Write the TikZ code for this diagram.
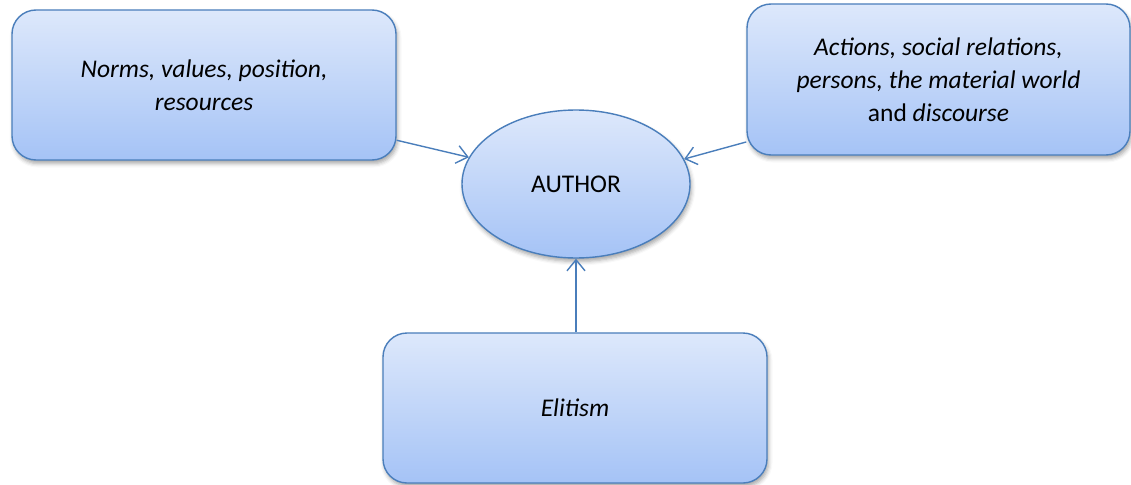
\documentclass[tikz,border=0pt]{standalone}
\usepackage{fontspec}
\setmainfont{Carlito}
\usetikzlibrary{arrows.meta,shapes.geometric,shadows.blur}
\definecolor{edgeblue}{HTML}{4A7EBB}
\definecolor{filltop}{HTML}{DDE8FB}
\definecolor{fillbot}{HTML}{A5C3F6}
\tikzset{
  filled/.style={draw=edgeblue, line width=1.4pt, top color=filltop, bottom color=fillbot,
    blur shadow={shadow xshift=1.5pt, shadow yshift=-3.5pt, shadow blur radius=4pt, shadow opacity=35},
    align=center, font=\fontsize{25.5}{33}\selectfont, inner sep=0pt},
  roundbox/.style={filled, rectangle, rounded corners=24pt},
  oval/.style={filled, ellipse},
  conn/.style={draw=edgeblue, line width=1.4pt, -{Straight Barb[length=11pt,width=18pt,line width=1.4pt]}}
}
\begin{document}
\begin{tikzpicture}[x=1pt,y=-1pt]
  \useasboundingbox (0,0) rectangle (1131,484);
  % source boxes
  \node[roundbox, minimum width=384pt, minimum height=150pt] (norms) at (204,85)
    {\itshape Norms, values, position,\\ \itshape resources};
  \node[roundbox, minimum width=383pt, minimum height=151pt] (actions) at (938.5,79.5)
    {\itshape Actions, social relations,\\ \itshape persons, the material world\\ and \textit{discourse}};
  \node[roundbox, minimum width=384pt, minimum height=150pt] (elitism) at (575,408)
    {\itshape Elitism};
  % central ellipse
  \node[oval, minimum width=228pt, minimum height=148pt] (author) at (576,184) {AUTHOR};
  % connectors
  \draw[conn] (norms.-16.5) -- (author.166);
  \draw[conn] (actions.-162.4) -- (author.13.5);
  \draw[conn] (elitism.north -| author.south) -- (author.south);
\end{tikzpicture}
\end{document}
